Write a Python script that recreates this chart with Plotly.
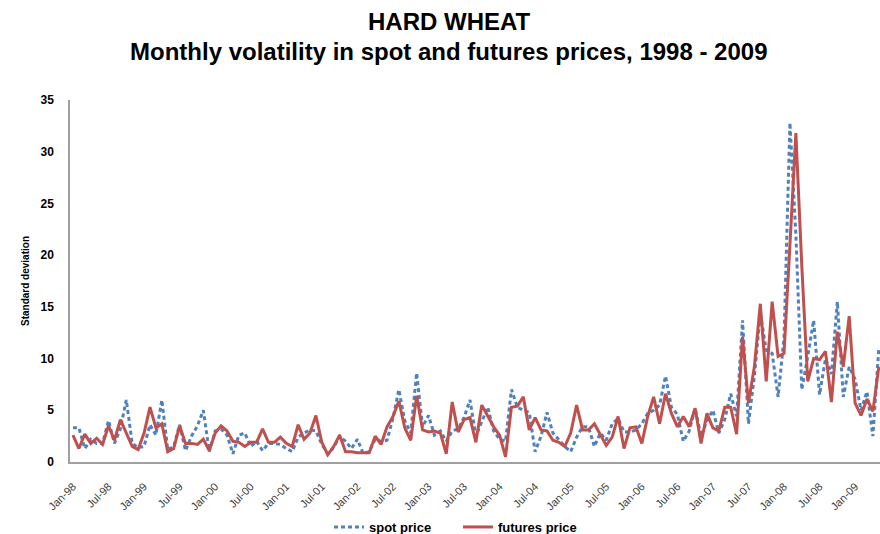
import plotly.graph_objects as go

month_names = ["Jan", "Feb", "Mar", "Apr", "May", "Jun", "Jul", "Aug", "Sep", "Oct", "Nov", "Dec"]
years = ["98", "99", "00", "01", "02", "03", "04", "05", "06", "07", "08", "09"]
months = [f"{m}-{y}" for y in years for m in month_names][:137]

tick_labels = ["Jan-98", "Jul-98", "Jan-99", "Jul-99", "Jan-00", "Jul-00", "Jan-01", "Jul-01",
               "Jan-02", "Jul-02", "Jan-03", "Jul-03", "Jan-04", "Jul-04", "Jan-05", "Jul-05",
               "Jan-06", "Jul-06", "Jan-07", "Jul-07", "Jan-08", "Jul-08", "Jan-09"]
y_ticks = [0, 5, 10, 15, 20, 25, 30, 35]

spot_price = [
    3.3, 3.3, 1.3, 2.2, 1.8, 1.8, 4.0, 1.8, 3.2, 6.0, 1.8, 1.4,
    1.5, 3.6, 2.6, 6.0, 1.2, 1.5, 3.6, 1.1, 2.5, 3.5, 5.0, 1.0,
    3.0, 3.2, 2.6, 0.8, 2.6, 2.8, 1.5, 2.0, 1.1, 1.8, 1.8, 1.7,
    1.3, 1.0, 2.4, 2.8, 3.1, 3.0, 1.7, 0.8, 1.4, 2.5, 2.0, 1.3,
    2.2, 0.8, 1.0, 2.2, 2.0, 2.1, 4.2, 7.0, 4.0, 2.8, 8.6, 3.4,
    4.5, 2.6, 3.0, 2.0, 3.0, 3.2, 4.3, 6.0, 2.5, 4.0, 5.3, 3.0,
    2.2, 2.0, 7.0, 5.3, 5.0, 4.8, 1.0, 2.5, 4.8, 2.8, 2.1, 1.5,
    1.0, 2.4, 3.4, 3.4, 1.5, 2.8, 2.1, 3.7, 4.2, 2.9, 2.9, 3.1,
    3.7, 4.7, 5.0, 5.5, 8.3, 5.3, 4.6, 2.0, 3.0, 5.2, 2.5, 4.0,
    5.0, 2.8, 4.1, 6.6, 4.4, 13.7, 3.7, 8.3, 14.4, 10.8, 10.5, 6.3,
    12.0, 32.8, 22.0, 7.0, 10.2, 13.7, 6.5, 10.0, 8.5, 15.5, 6.3, 9.2,
    8.0, 5.0, 6.8, 2.5, 11.0,
]

futures_price = [
    2.6, 1.3, 2.7, 1.8, 2.3, 1.7, 3.5, 2.1, 4.1, 2.8, 1.5, 1.2,
    2.8, 5.3, 3.3, 3.7, 1.0, 1.3, 3.5, 1.8, 1.8, 1.7, 2.2, 1.1,
    2.8, 3.5, 3.0, 2.0, 1.9, 1.5, 1.9, 1.9, 3.2, 1.9, 1.9, 2.4,
    1.8, 1.5, 3.6, 2.2, 2.8, 4.5, 1.9, 0.7, 1.5, 2.6, 1.0, 1.0,
    0.9, 0.9, 0.9, 2.5, 1.7, 3.4, 4.4, 5.9, 3.3, 2.1, 6.4, 3.1,
    2.9, 3.0, 2.8, 0.8, 5.8, 2.9, 4.1, 4.3, 1.9, 5.5, 4.5, 3.4,
    2.6, 0.5, 5.3, 5.4, 6.3, 3.1, 4.3, 3.1, 3.0, 2.1, 1.9, 1.5,
    2.8, 5.5, 3.1, 3.1, 3.7, 2.6, 1.6, 2.4, 4.4, 1.3, 3.3, 3.4,
    1.8, 4.4, 6.3, 3.7, 6.6, 4.7, 3.4, 4.4, 3.4, 5.2, 1.8, 4.7,
    3.3, 3.0, 5.3, 5.3, 2.7, 12.1, 5.7, 9.2, 15.3, 7.8, 15.5, 10.2,
    10.5, 21.0, 31.8, 19.0, 7.8, 10.0, 9.9, 10.7, 5.8, 12.6, 9.2, 14.1,
    5.7, 4.5, 6.1, 4.9, 9.2,
]

FONT = "Liberation Sans, Arial, sans-serif"

fig = go.Figure()
fig.add_trace(go.Scatter(
    x=months, y=spot_price, mode="lines", name="<b>spot price</b>",
    line=dict(color="#4F81BD", width=3, dash="4px,3px"),
))
fig.add_trace(go.Scatter(
    x=months, y=futures_price, mode="lines", name="<b>futures price</b>",
    line=dict(color="#C0504D", width=3),
))

fig.add_annotation(
    text="<b>HARD WHEAT</b>", xref="paper", yref="paper",
    x=(449 - 70) / 810, y=1 + (100 - 21) / 362, xanchor="center", yanchor="middle",
    showarrow=False, font=dict(family=FONT, size=24, color="black"),
)
fig.add_annotation(
    text="<b>Monthly volatility in spot and futures prices, 1998 - 2009</b>", xref="paper", yref="paper",
    x=(449 - 70) / 810, y=1 + (100 - 52) / 362, xanchor="center", yanchor="middle",
    showarrow=False, font=dict(family=FONT, size=24, color="black"),
)

fig.update_layout(
    width=880, height=534,
    paper_bgcolor="white", plot_bgcolor="white",
    margin=dict(l=70, r=0, t=100, b=72),
    font=dict(family=FONT, color="black"),
    showlegend=True,
    legend=dict(
        orientation="h", xref="container", yref="container",
        x=458 / 880, xanchor="center", y=1 - 527 / 534, yanchor="middle",
        font=dict(family=FONT, size=13, color="black"),
        entrywidth=84, entrywidthmode="pixels",
        tracegroupgap=0,
    ),
    xaxis=dict(
        type="category",
        range=[-0.5, 136.2],
        tickmode="array", tickvals=tick_labels, ticktext=tick_labels,
        tickangle=-45, tickfont=dict(size=11, color="#404040"),
        ticklabelstandoff=12,
        showline=True, linecolor="#A0A0A0", linewidth=1.5,
        showgrid=False, ticks="", zeroline=False, automargin=False,
    ),
    yaxis=dict(
        range=[0, 35], tickmode="array", tickvals=y_ticks,
        ticktext=[f"<b>{v}</b>" for v in y_ticks],
        tickfont=dict(size=12, color="black"),
        ticklabelstandoff=12,
        showline=True, linecolor="#A0A0A0", linewidth=1.5,
        showgrid=False, ticks="", zeroline=False, automargin=False,
        title=dict(text="<b>Standard deviation</b>", font=dict(size=10, color="black"), standoff=9),
    ),
)

fig.write_html("out.html", config={"displayModeBar": False},
               post_script="document.body.style.margin='0';")
